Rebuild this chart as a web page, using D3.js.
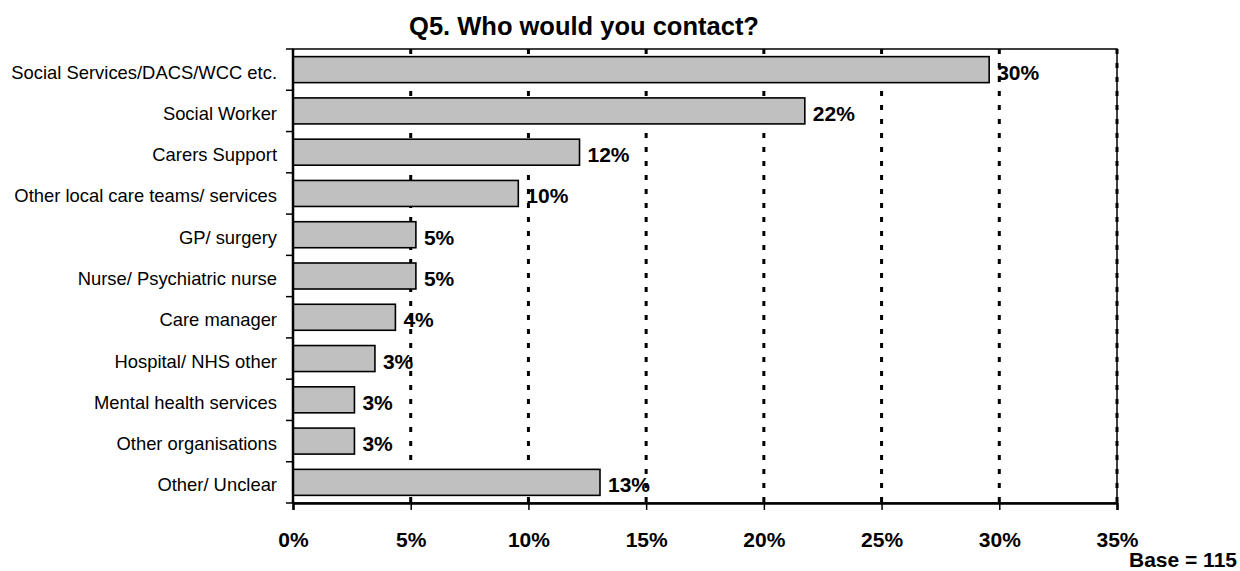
<!DOCTYPE html>
<html>
<head>
<meta charset="utf-8">
<script src="https://cdn.jsdelivr.net/npm/d3@7"></script>
<style>
  body { margin: 0; background: #fff; }
  text { font-family: Arial, "Liberation Sans", sans-serif; fill: #000; }
</style>
</head>
<body>
<script>
const width = 1240, height = 571;

// categories top to bottom
const categories = [
  "Social Services/DACS/WCC etc.",
  "Social Worker",
  "Carers Support",
  "Other local care teams/ services",
  "GP/ surgery",
  "Nurse/ Psychiatric nurse",
  "Care manager",
  "Hospital/ NHS other",
  "Mental health services",
  "Other organisations",
  "Other/ Unclear"
];
const values = [29.57, 21.74, 12.17, 9.57, 5.22, 5.22, 4.35, 3.48, 2.61, 2.61, 13.04];
const xTicks = [0, 5, 10, 15, 20, 25, 30, 35];
const title = "Q5. Who would you contact?";
const baseNote = "Base = 115";

const data = categories.map((c, i) => ({ name: c, value: values[i] }));

const margin = { top: 49, right: 123, bottom: 68, left: 293 };

const svg = d3.select("body").append("svg")
    .attr("width", width)
    .attr("height", height);

const x = d3.scaleLinear()
    .domain([0, 35])
    .range([margin.left, width - margin.right]);

const y = d3.scaleBand()
    .domain(categories)
    .range([margin.top, height - margin.bottom])
    .paddingInner(0.37)
    .paddingOuter(0.185);

// plot frame (top + right)
svg.append("rect")
    .attr("x", x(0))
    .attr("y", y.range()[0])
    .attr("width", x(35) - x(0))
    .attr("height", y.range()[1] - y.range()[0])
    .attr("fill", "none")
    .attr("stroke", "#000")
    .attr("stroke-width", 1.5);

// dashed gridlines
svg.append("g")
  .selectAll("line")
  .data(xTicks.filter(d => d > 0))
  .join("line")
    .attr("x1", d => x(d))
    .attr("x2", d => x(d))
    .attr("y1", y.range()[0])
    .attr("y2", y.range()[1])
    .attr("stroke", "#000")
    .attr("stroke-width", 3)
    .attr("stroke-dasharray", "5,9");

// bars
svg.append("g")
  .selectAll("rect")
  .data(data)
  .join("rect")
    .attr("x", x(0))
    .attr("y", d => y(d.name))
    .attr("width", d => x(d.value) - x(0))
    .attr("height", y.bandwidth())
    .attr("fill", "#c0c0c0")
    .attr("stroke", "#000")
    .attr("stroke-width", 1.6);

// value labels
svg.append("g")
  .selectAll("text")
  .data(data)
  .join("text")
    .attr("x", d => x(d.value) + 8)
    .attr("y", d => y(d.name) + y.bandwidth() / 2 + 10)
    .attr("font-size", 21)
    .attr("font-weight", "bold")
    .text(d => Math.round(d.value) + "%");

// x axis
const xAxis = svg.append("g")
    .attr("transform", `translate(0,${y.range()[1]})`)
    .call(d3.axisBottom(x).tickValues(xTicks).tickSize(7).tickPadding(22).tickFormat(d => d + "%"));
xAxis.select(".domain").attr("stroke-width", 2.5);
xAxis.selectAll(".tick line").attr("stroke-width", 1.5);
xAxis.selectAll(".tick text")
    .attr("font-size", 21)
    .attr("font-weight", "bold")
    .attr("font-family", "Arial, 'Liberation Sans', sans-serif");

// y axis: line + ticks at category boundaries
const bounds = d3.range(categories.length + 1).map(i =>
  i < categories.length ? y(categories[i]) - y.step() * y.paddingInner() / 2 : y.range()[1]);
bounds[0] = y.range()[0];

svg.append("line")
    .attr("x1", x(0)).attr("x2", x(0))
    .attr("y1", y.range()[0]).attr("y2", y.range()[1])
    .attr("stroke", "#000")
    .attr("stroke-width", 2.5);

svg.append("g")
  .selectAll("line")
  .data(bounds)
  .join("line")
    .attr("x1", x(0) - 7)
    .attr("x2", x(0))
    .attr("y1", d => d)
    .attr("y2", d => d)
    .attr("stroke", "#000")
    .attr("stroke-width", 1.5);

// category labels
svg.append("g")
  .selectAll("text")
  .data(categories)
  .join("text")
    .attr("x", x(0) - 16)
    .attr("y", d => y(d) + y.bandwidth() / 2 + 9)
    .attr("text-anchor", "end")
    .attr("font-size", 18.4)
    .text(d => d);

// title
svg.append("text")
    .attr("x", 584)
    .attr("y", 35)
    .attr("text-anchor", "middle")
    .attr("font-size", 25.5)
    .attr("font-weight", "bold")
    .text(title);

svg.append("text")
    .attr("x", 1237)
    .attr("y", 567)
    .attr("text-anchor", "end")
    .attr("font-size", 21)
    .attr("font-weight", "bold")
    .text(baseNote);
</script>
</body>
</html>
